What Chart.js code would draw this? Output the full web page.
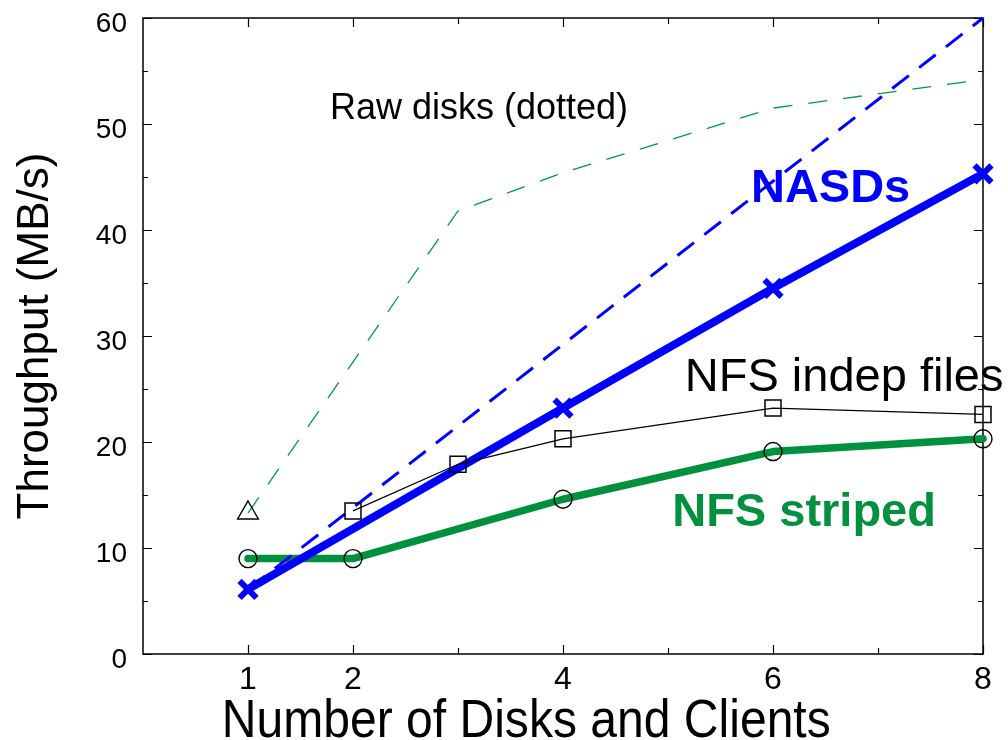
<!DOCTYPE html>
<html>
<head>
<meta charset="utf-8">
<script src="https://cdn.jsdelivr.net/npm/chart.js@4/dist/chart.umd.min.js"></script>
<style>
  html, body { margin: 0; padding: 0; background: #fff; }
  #wrap { width: 1008px; height: 740px; }
</style>
</head>
<body>
<div id="wrap"><canvas id="c" width="1008" height="740"></canvas></div>
<script>
// Axis tick positions
const xTickValues = [1, 2, 4, 6, 8];
const xMinorTicks = [3, 5, 7];
const yMinorTicks = [5, 15, 25, 35, 45, 55];

// Throughput (MB/s) per number of disks and clients
const nasdX = [1, 4, 6, 8];
const nasdY = [6.1, 23.2, 34.5, 45.3];
const nasdIdealX = [1, 8];
const nasdIdealY = [6.1, 60];
const rawX = [1, 3, 4, 6, 8];
const rawY = [13.3, 41.8, 45.4, 51.5, 54.2];
const indepX = [2, 3, 4, 6, 8];
const indepY = [13.5, 17.9, 20.3, 23.2, 22.6];
const stripedX = [1, 2, 4, 6, 8];
const stripedY = [9.0, 9.0, 14.6, 19.1, 20.3];

const xTitle = 'Number of Disks and Clients';
const yTitle = 'Throughput (MB/s)';

const pts = (xs, ys) => xs.map((v, i) => ({ x: v, y: ys[i] }));

const FONT = '"Liberation Sans", Arial, Helvetica, sans-serif';
const BLUE = '#0000ff';
const GREEN = '#00913e';
const GREEN_THIN = '#00994a';

// In-plot text labels, anchored in data units (left edge, vertical centre)
const notes = [
  { text: 'Raw disks (dotted)', x: 1.78, y: 51.4, color: '#000', font: '36px ' + FONT },
  { text: 'NASDs', x: 5.79, y: 43.9, color: BLUE, font: 'bold 47px ' + FONT },
  { text: 'NFS indep files', x: 5.16, y: 26.0, color: '#000', font: '47px ' + FONT },
  { text: 'NFS striped', x: 5.04, y: 13.3, color: GREEN, font: 'bold 47px ' + FONT }
];

// Box frame with inward tick marks on all four sides, the in-plot labels
// and the condensed x-axis title
const frameAndNotes = {
  id: 'frameAndNotes',
  beforeDatasetsDraw(chart) {
    const { ctx, chartArea: a, scales: { x, y } } = chart;
    ctx.save();
    ctx.strokeStyle = '#000';
    ctx.lineWidth = 1.5;
    ctx.strokeRect(a.left, a.top, a.right - a.left, a.bottom - a.top);
    ctx.lineWidth = 1.2;
    ctx.beginPath();
    const vTick = (v, len) => {
      const px = Math.round(x.getPixelForValue(v)) + 0.5;
      ctx.moveTo(px, a.bottom); ctx.lineTo(px, a.bottom - len);
      ctx.moveTo(px, a.top); ctx.lineTo(px, a.top + len);
    };
    const hTick = (v, len) => {
      const py = Math.round(y.getPixelForValue(v)) + 0.5;
      ctx.moveTo(a.left, py); ctx.lineTo(a.left + len, py);
      ctx.moveTo(a.right, py); ctx.lineTo(a.right - len, py);
    };
    xTickValues.forEach(v => vTick(v, 9));
    xMinorTicks.forEach(v => vTick(v, 6));
    y.ticks.forEach(t => hTick(t.value, 9));
    yMinorTicks.forEach(v => hTick(v, 5));
    ctx.stroke();
    ctx.restore();
  },
  afterDatasetsDraw(chart) {
    const { ctx, chartArea: a, scales: { x, y } } = chart;
    ctx.save();
    ctx.textAlign = 'left';
    ctx.textBaseline = 'middle';
    notes.forEach(n => {
      ctx.font = n.font;
      ctx.fillStyle = n.color;
      ctx.fillText(n.text, x.getPixelForValue(n.x), y.getPixelForValue(n.y));
    });
    // x-axis title, set in a narrowed face below the tick labels
    ctx.translate(x.getPixelForValue(3.65), a.bottom + 68);
    ctx.scale(0.89, 1);
    ctx.font = '54px ' + FONT;
    ctx.fillStyle = '#000';
    ctx.textAlign = 'center';
    ctx.fillText(xTitle, 0, 0);
    ctx.restore();
  }
};

new Chart(document.getElementById('c'), {
  type: 'line',
  data: {
    datasets: [
      {
        label: 'NFS indep files',
        data: pts(indepX, indepY),
        borderColor: '#000',
        borderWidth: 1.3,
        pointStyle: 'rect',
        pointRadius: 11.3,
        pointBorderColor: '#000',
        pointBackgroundColor: 'rgba(0,0,0,0)',
        pointBorderWidth: 1.5,
        clip: false
      },
      {
        label: 'NASDs',
        data: pts(nasdX, nasdY),
        borderColor: BLUE,
        borderWidth: 8,
        borderJoinStyle: 'round',
        borderCapStyle: 'round',
        pointStyle: 'crossRot',
        pointRadius: 12,
        pointBorderColor: BLUE,
        pointBorderWidth: 6,
        clip: false
      },
      {
        label: 'NASDs (linear)',
        data: pts(nasdIdealX, nasdIdealY),
        borderColor: BLUE,
        borderWidth: 3,
        borderDash: [21, 13],
        pointRadius: 0,
        clip: false
      },
      {
        label: 'NFS striped',
        data: pts(stripedX, stripedY),
        borderColor: GREEN,
        borderWidth: 7.5,
        borderJoinStyle: 'round',
        borderCapStyle: 'round',
        pointStyle: 'circle',
        pointRadius: 9,
        pointBorderColor: '#000',
        pointBackgroundColor: 'rgba(0,0,0,0)',
        pointBorderWidth: 1.4,
        clip: false
      },
      {
        label: 'Raw disks',
        data: pts(rawX, rawY),
        borderColor: GREEN_THIN,
        borderWidth: 1.3,
        borderDash: [19, 16],
        pointStyle: 'triangle',
        pointRadius: c => (c.dataIndex === 0 ? 12 : 0),
        pointBorderColor: '#000',
        pointBackgroundColor: 'rgba(0,0,0,0)',
        pointBorderWidth: 1.4,
        clip: false
      }
    ]
  },
  options: {
    responsive: false,
    animation: false,
    devicePixelRatio: 1,
    layout: { padding: { top: 15, right: 25, left: 0, bottom: 0 } },
    elements: { line: { tension: 0 } },
    plugins: { legend: { display: false }, tooltip: { enabled: false } },
    scales: {
      x: {
        type: 'linear',
        min: 0,
        max: 8,
        grid: { display: false, drawTicks: false },
        border: { display: false },
        afterBuildTicks: s => { s.ticks = xTickValues.map(v => ({ value: v })); },
        afterFit: s => { s.height = 86; s.paddingLeft = 0; s.paddingRight = 0; },
        ticks: {
          color: '#000',
          padding: 10,
          font: { family: FONT, size: 32, lineHeight: 1 }
        },
        title: { display: false }
      },
      y: {
        min: 0,
        max: 60,
        grid: { display: false, drawTicks: false },
        border: { display: false },
        afterFit: s => { s.width = 143; s.paddingTop = 0; s.paddingBottom = 0; },
        ticks: {
          stepSize: 10,
          color: '#000',
          padding: 16,
          labelOffset: 6,
          font: { family: FONT, size: 28, lineHeight: 1 }
        },
        title: {
          display: true,
          text: yTitle,
          color: '#000',
          padding: { top: 14, bottom: 0 },
          font: { family: FONT, size: 44, lineHeight: 1 }
        }
      }
    }
  },
  plugins: [frameAndNotes]
});
</script>
</body>
</html>
